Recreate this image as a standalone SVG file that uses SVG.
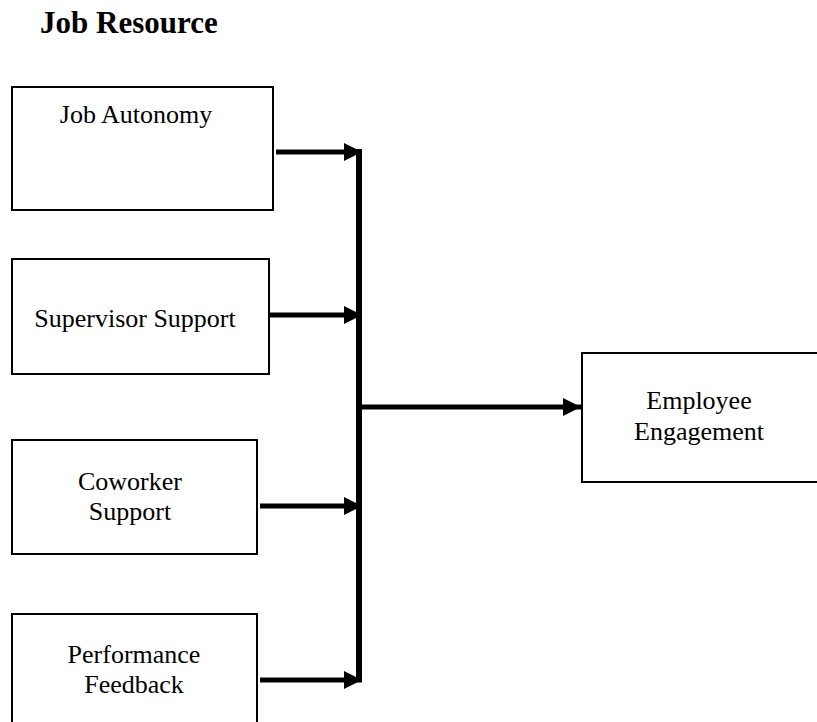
<svg xmlns="http://www.w3.org/2000/svg" width="817" height="722" viewBox="0 0 817 722">
<style>
.box{fill:#fff;stroke:#000;stroke-width:2}
.lbl{font-family:"Liberation Serif","Times New Roman",serif;font-size:26px;fill:#000;text-anchor:middle}
.title{font-family:"Liberation Serif","Times New Roman",serif;font-size:31px;font-weight:bold;fill:#000}
.conn{stroke:#000;stroke-width:5;fill:none}
</style>
<defs>
<marker id="ah" markerUnits="userSpaceOnUse" markerWidth="18" markerHeight="18" refX="18" refY="9" orient="auto">
<path d="M0,0 L18,9 L0,18 z" fill="#000"/>
</marker>
</defs>
<rect width="817" height="722" fill="#fff"/>
<text class="title" x="40" y="33">Job Resource</text>
<g id="node-job-autonomy">
<rect class="box" x="12" y="87" width="261" height="123"/>
<text class="lbl" x="136" y="123">Job Autonomy</text>
</g>
<g id="node-supervisor-support">
<rect class="box" x="12" y="259" width="257" height="115"/>
<text class="lbl" x="135" y="327">Supervisor Support</text>
</g>
<g id="node-coworker-support">
<rect class="box" x="12" y="440" width="245" height="114"/>
<text class="lbl" x="130" y="490">Coworker</text>
<text class="lbl" x="130" y="520">Support</text>
</g>
<g id="node-performance-feedback">
<rect class="box" x="12" y="614" width="245" height="130"/>
<text class="lbl" x="134" y="663">Performance</text>
<text class="lbl" x="134" y="693">Feedback</text>
</g>
<g id="node-employee-engagement">
<rect class="box" x="582" y="353" width="260" height="129"/>
<text class="lbl" x="699" y="409">Employee</text>
<text class="lbl" x="699" y="440">Engagement</text>
</g>
<g id="connectors">
<line class="conn" x1="359" y1="149" x2="359" y2="682" style="stroke-width:6"/>
<line class="conn" x1="276" y1="152" x2="362" y2="152" marker-end="url(#ah)"/>
<line class="conn" x1="269" y1="315" x2="362" y2="315" marker-end="url(#ah)"/>
<line class="conn" x1="260" y1="506" x2="362" y2="506" marker-end="url(#ah)"/>
<line class="conn" x1="260" y1="680" x2="362" y2="680" marker-end="url(#ah)"/>
<line class="conn" x1="359" y1="407" x2="581" y2="407" marker-end="url(#ah)"/>
</g>
</svg>
